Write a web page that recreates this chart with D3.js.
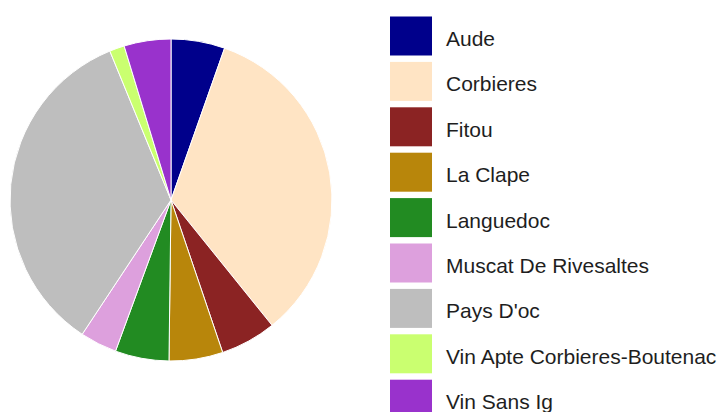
<!DOCTYPE html>
<html>
<head>
<meta charset="utf-8">
<script src="https://cdn.jsdelivr.net/npm/d3@7/dist/d3.min.js"></script>
<style>
  html, body { margin: 0; padding: 0; background: #fff; }
  svg { display: block; }
</style>
</head>
<body>
<svg id="chart" width="727" height="412"></svg>
<script>
const categories = ["Aude", "Corbieres", "Fitou", "La Clape", "Languedoc", "Muscat De Rivesaltes", "Pays D'oc", "Vin Apte Corbieres-Boutenac", "Vin Sans Ig"];
const values = [5.4, 33.8, 5.6, 5.4, 5.4, 3.7, 34.5, 1.5, 4.7];
const colors = ["#00008B", "#FFE4C4", "#8B2323", "#B8860B", "#228B22", "#DDA0DD", "#BEBEBE", "#CAFF70", "#9932CC"];

const svg = d3.select("#chart");
const cx = 171, cy = 200, r = 161;

const color = d3.scaleOrdinal().domain(categories).range(colors);
const data = categories.map((c, i) => ({ name: c, value: values[i] }));

const pie = d3.pie().value(d => d.value).sort(null).startAngle(0).endAngle(2 * Math.PI);
const arc = d3.arc().innerRadius(0).outerRadius(r);

const g = svg.append("g").attr("transform", `translate(${cx},${cy})`);
g.selectAll("path")
  .data(pie(data))
  .join("path")
  .attr("d", arc)
  .attr("fill", d => color(d.data.name))
  .attr("stroke", "#ffffff")
  .attr("stroke-width", 1);

// Legend
const legY = d3.scaleBand().domain(categories).range([16.5, 16.5 + 45.4 * categories.length]).paddingInner(0);
const leg = svg.append("g");
const items = leg.selectAll("g.item")
  .data(categories)
  .join("g")
  .attr("class", "item")
  .attr("transform", d => `translate(390,${legY(d)})`);

items.append("rect")
  .attr("x", 0)
  .attr("y", 0)
  .attr("width", 42)
  .attr("height", 39)
  .attr("fill", d => color(d));

items.append("text")
  .attr("transform", "translate(56,29.5) scale(1.05,1)")
  .attr("font-family", "'Liberation Sans', Arial, sans-serif")
  .attr("font-size", "20px")
  .attr("fill", "#1e1e1e")
  .text(d => d);
</script>
</body>
</html>
